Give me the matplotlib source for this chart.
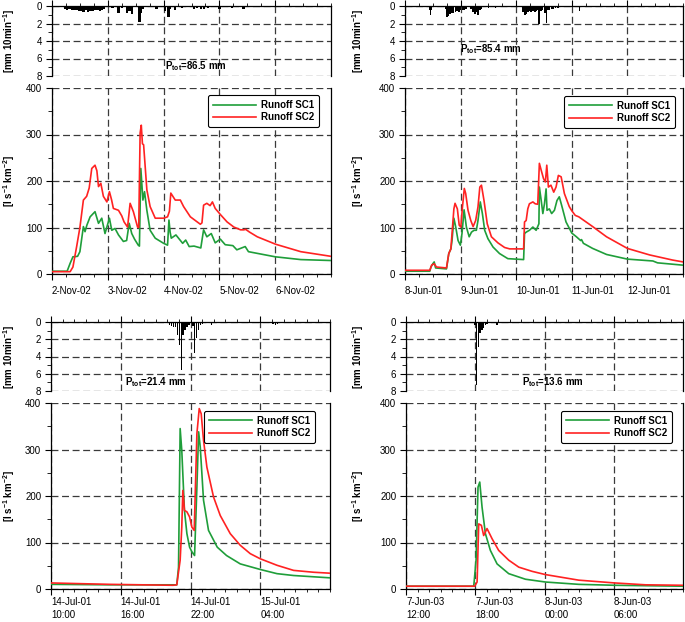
import numpy as np
import matplotlib.pyplot as plt
from matplotlib.ticker import MultipleLocator

plt.rcParams['font.family'] = ['Liberation Sans', 'DejaVu Sans']
plt.rcParams['mathtext.fontset'] = 'custom'
plt.rcParams['mathtext.bf'] = 'Liberation Sans:bold'
plt.rcParams['mathtext.rm'] = 'Liberation Sans:bold'
plt.rcParams['mathtext.default'] = 'bf'
plt.rcParams['lines.scale_dashes'] = False

# ---------------- datos: evento 1 (2-Nov-02), horas desde 2-Nov 00:00
lluvia1_h = [5.5, 6.5, 7.5, 8.5, 9.5, 10.5, 11.5, 12.5, 13.5, 14.5, 15.5, 16.5, 17.5,
             18.5, 19.5, 20.5, 21.5, 22.5, 24.5, 26.0, 28.6, 30.0, 32.2, 33.3, 34.3,
             37.6, 38.3, 39.0, 45.0, 48.7, 50.1, 50.6, 53.0, 56.0, 57.5, 61.0, 62.5,
             64.0, 65.5, 67.0, 70.0, 72.0, 77.4, 82.3]
lluvia1_mm = [0.3, 0.4, 0.35, 0.45, 0.5, 0.4, 0.55, 0.6, 0.65, 0.5, 0.7, 0.55, 0.6,
              0.45, 0.5, 0.6, 0.45, 0.35, 0.15, 0.2, 0.75, 0.2, 0.85, 0.6, 0.9,
              1.8, 0.8, 0.3, 0.3, 0.6, 1.2, 0.3, 0.4, 0.2, 0.15, 0.3, 0.25,
              0.35, 0.3, 0.25, 0.15, 0.3, 0.2, 0.35]
sc1_1_h = [0, 6.5, 7.8, 9.0, 11.0, 12.0, 13.5, 14.2, 15.0, 16.4, 18.5, 20.0, 21.4, 22.8,
           24.7, 25.7, 27.1, 28.6, 30.7, 32.1, 33.2, 34.3, 35.5, 37.1, 37.6, 38.2, 39.1,
           39.8, 40.8, 42.2, 44.4, 48.0, 49.7, 50.3, 50.8, 51.3, 53.3, 56.2, 57.5, 59.0,
           61.1, 64.0, 65.2, 66.6, 68.5, 70.2, 72.4, 74.5, 77.8, 79.5, 83.1, 84.5, 96.0,
           107.0, 120.0]
sc1_1_q = [6, 6, 23, 37, 38, 48, 102, 91, 105, 123, 134, 109, 120, 87,
           120, 94, 98, 84, 70, 72, 109, 87, 75, 62, 60, 227, 159,
           177, 137, 94, 77, 66, 62, 116, 90, 77, 84, 66, 73, 59,
           60, 56, 95, 80, 87, 67, 75, 63, 61, 52, 59, 48, 37,
           31, 29]
sc2_1_h = [0, 7.8, 9.0, 10.6, 12.0, 13.5, 14.9, 16.0, 17.1, 18.5, 19.3, 20.0, 21.0, 22.1,
           23.6, 24.7, 25.6, 26.4, 28.6, 30.0, 31.0, 32.5, 33.6, 35.0, 36.8, 37.3, 37.9,
           38.4, 38.9, 39.4, 40.8, 42.2, 44.4, 48.0, 49.7, 50.5, 51.1, 53.0, 55.2, 56.6,
           59.5, 63.8, 64.5, 65.2, 66.6, 68.0, 69.0, 70.2, 72.4, 75.3, 78.2, 81.1, 82.5,
           83.3, 85.0, 88.3, 96.2, 107.0, 120.0]
sc2_1_q = [5, 5, 15, 59, 100, 159, 167, 185, 227, 234, 222, 188, 195, 167,
           155, 177, 160, 141, 137, 125, 112, 101, 152, 134, 101, 100, 303,
           320, 280, 278, 181, 145, 120, 120, 123, 135, 174, 159, 159, 145,
           123, 107, 110, 148, 152, 147, 155, 141, 128, 112, 101, 95, 95,
           96, 90, 80, 64, 48, 38]

# ---------------- evento 2 (8-Jun-01), horas desde 8-Jun 00:00
lluvia2_h = [10.6, 11.0, 11.5, 14.5, 17.5, 18.0, 18.7, 19.4, 20.2, 21.0, 21.8, 22.5,
             23.3, 24.0, 24.8, 25.5, 26.3, 28.5, 29.4, 30.2, 30.9, 31.6, 32.4, 33.0,
             36.0, 37.5, 39.0, 46.5, 51.0, 51.7, 52.4, 53.1, 53.8, 54.5, 55.2, 56.0,
             56.7, 57.4, 57.9, 58.6, 59.3, 60.3, 61.0, 61.7, 62.4, 63.2, 64.0, 65.0,
             66.0, 67.0, 75.4]
lluvia2_mm = [0.5, 1.0, 0.5, 0.15, 0.3, 1.2, 1.1, 0.9, 0.8, 0.85, 0.7, 0.6,
              0.65, 0.5, 0.45, 0.4, 0.3, 0.3, 0.7, 0.9, 0.65, 1.0, 0.4, 0.3,
              0.2, 0.15, 0.2, 0.15, 0.7, 1.0, 0.9, 0.7, 0.6, 0.65, 0.6, 0.7,
              0.6, 0.5, 2.0, 0.6, 0.5, 0.85, 1.9, 0.5, 0.4, 0.35, 0.3, 0.25,
              0.2, 0.15, 0.6]
sc1_2_h = [0, 10.7, 11.2, 12.0, 12.6, 13.2, 17.9, 18.9, 19.8, 20.3, 21.1, 21.9, 22.9,
           23.9, 24.6, 25.5, 26.5, 27.7, 28.7, 29.8, 30.8, 31.5, 32.5, 33.4, 34.4, 35.8,
           38.0, 40.8, 44.4, 51.2, 51.6, 52.3, 53.7, 55.2, 56.6, 57.8, 58.0, 58.8, 59.5,
           60.2, 60.9, 61.3, 62.3, 63.3, 64.5, 65.6, 66.6, 67.6, 69.5, 72.0, 74.0, 75.8,
           76.2, 77.0, 81.0, 87.0, 96.0, 107.0, 109.0, 120.0]
sc1_2_q = [6, 6, 15, 22, 26, 13, 11, 44, 54, 72, 120, 101, 72,
           62, 87, 138, 101, 80, 90, 94, 94, 115, 155, 130, 94, 76,
           58, 44, 33, 31, 87, 90, 94, 101, 94, 108, 187, 158, 130,
           151, 183, 137, 140, 130, 137, 158, 166, 148, 112, 88, 80, 72,
           74, 66, 55, 42, 32, 28, 24, 19]
sc2_2_h = [0, 10.7, 11.5, 12.6, 13.6, 17.9, 18.9, 19.8, 20.3, 21.1, 21.6, 22.6, 23.4,
           24.1, 24.8, 25.6, 26.2, 27.2, 28.4, 29.4, 30.5, 31.5, 32.3, 33.0, 34.1, 35.5,
           37.3, 40.1, 43.0, 45.2, 51.2, 51.6, 52.3, 53.0, 53.7, 55.2, 56.2, 57.3, 58.0,
           58.8, 59.8, 60.6, 61.2, 61.9, 63.0, 64.2, 65.2, 66.2, 67.4, 68.8, 70.9, 72.0,
           73.5, 75.0, 77.0, 81.0, 87.0, 96.0, 105.6, 115.5, 120.0]
sc2_2_q = [8, 8, 19, 22, 15, 13, 44, 54, 87, 140, 152, 140, 105,
           101, 144, 184, 173, 137, 115, 102, 115, 144, 187, 191, 158, 108,
           80, 67, 57, 54, 54, 112, 115, 140, 151, 155, 151, 150, 238,
           223, 205, 198, 234, 187, 191, 176, 187, 212, 209, 173, 145, 136,
           126, 123, 116, 102, 80, 55, 41, 30, 26]

# ---------------- evento 3 (14-Jul-01), horas desde 14-Jul 10:00
lluvia3_h = [10.2, 10.37, 10.53, 10.7, 10.87, 11.03, 11.2, 11.37, 11.53, 11.7, 11.87,
             12.2, 12.37, 12.53, 12.7, 12.87, 13.03, 13.2, 13.5, 13.83, 14.8, 16.0,
             17.1, 19.1, 19.3, 19.5, 23.2]
lluvia3_mm = [0.3, 0.5, 0.55, 0.6, 1.5, 2.7, 5.6, 1.5, 0.9, 0.55, 0.3,
              0.5, 3.6, 1.9, 0.9, 0.4, 0.2, 0.15, 0.15, 0.3, 0.1, 0.15,
              0.1, 0.2, 0.35, 0.2, 0.15]
sc1_3_h = [0, 5, 10.82, 10.97, 11.11, 11.25, 11.48, 11.69, 11.92, 12.12, 12.35, 12.55,
           12.7, 12.84, 13.12, 13.55, 14.3, 15.1, 16.28, 18.0, 19.44, 20.87, 24.0]
sc1_3_q = [10, 9, 9, 47, 345, 298, 169, 119, 90, 80, 72, 219,
           338, 305, 191, 126, 90, 72, 54, 42, 33, 29, 24]
sc2_3_h = [0, 5, 10.5, 10.82, 11.11, 11.25, 11.34, 11.48, 11.69, 11.92, 12.12, 12.32,
           12.55, 12.75, 12.92, 13.12, 13.41, 13.98, 14.56, 15.42, 16.28, 17.14, 18.0,
           19.44, 20.87, 22.6, 24.0]
sc2_3_q = [13, 10, 8, 9, 62, 133, 212, 169, 166, 155, 133, 126,
           334, 388, 377, 320, 262, 198, 158, 119, 94, 76, 65,
           51, 40, 36, 34]

# ---------------- evento 4 (7-Jun-03), horas desde 7-Jun 12:00
lluvia4_h = [5.97, 6.12, 6.27, 6.42, 6.57, 6.72, 6.87, 7.02, 7.17, 7.42, 7.7, 7.87]
lluvia4_mm = [0.35, 7.3, 2.9, 1.3, 0.9, 0.65, 0.35, 0.25, 0.15, 0.15, 0.1, 0.3]
sc1_4_h = [0, 5.87, 6.07, 6.24, 6.39, 6.59, 6.88, 7.31, 7.89, 8.9, 10.35, 12.08,
           14.97, 18.09, 24.0]
sc1_4_q = [6, 6, 62, 219, 230, 176, 119, 83, 54, 33, 21, 15, 10, 8, 6]
sc2_4_h = [0, 5.95, 6.16, 6.3, 6.53, 6.73, 7.02, 7.46, 8.03, 8.9, 9.77, 10.92, 12.08,
           14.97, 18.09, 20.75, 24.0]
sc2_4_q = [6, 6, 15, 140, 137, 115, 130, 108, 83, 62, 47, 38, 31, 19, 13, 9, 8]

ptot = ["86.5", "85.4", "21.4", "13.6"]

etiquetas1 = ["2-Nov-02", "3-Nov-02", "4-Nov-02", "5-Nov-02", "6-Nov-02"]
etiquetas2 = ["8-Jun-01", "9-Jun-01", "10-Jun-01", "11-Jun-01", "12-Jun-01"]
etiquetas3 = ["14-Jul-01\n10:00", "14-Jul-01\n16:00", "14-Jul-01\n22:00", "15-Jul-01\n04:00"]
etiquetas4 = ["7-Jun-03\n12:00", "7-Jun-03\n18:00", "8-Jun-03\n00:00", "8-Jun-03\n06:00"]

VERDE = '#1f9e3a'
ROJO = '#ff2222'
GRIS = '#3a3a3a'
W, H = 685, 622


def rect(l, t, r, b):
    return [l / W, 1 - b / H, (r - l) / W, (b - t) / H]


def rejilla(ax):
    ax.grid(True, which='major', linestyle=(0, (5, 2.6)), color=GRIS, linewidth=0.9)


def panel(xl, xr, yr_t, yr_b, yq_t, yq_b, lh, lmm, ancho, h1, q1, h2, q2,
          total, etiquetas, paso, menor, pad_lbl, pos_txt, pos_leg, lbl_x):
    fin = paso * len(etiquetas)
    # --- lluvia
    ax_r = fig.add_axes(rect(xl, yr_t, xr, yr_b))
    ax_r.bar(lh, lmm, width=ancho, color='k', align='center', zorder=3, linewidth=0)
    ax_r.set_xlim(0, fin)
    ax_r.set_ylim(8, 0)
    ax_r.set_xticks(np.arange(0, fin, paso))
    ax_r.xaxis.set_minor_locator(MultipleLocator(menor))
    ax_r.yaxis.set_major_locator(MultipleLocator(2))
    ax_r.yaxis.set_minor_locator(MultipleLocator(1))
    ax_r.tick_params(axis='x', which='both', top=True, bottom=False, labeltop=False,
                     labelbottom=False, direction='out')
    ax_r.spines['bottom'].set_visible(False)
    ax_r.set_ylabel(r'[mm 10min$^{-1}$]', fontsize=7, fontweight='bold')
    ax_r.yaxis.set_label_coords((lbl_x - xl) / (xr - xl), 0.5)
    rejilla(ax_r)
    ax_r.text(pos_txt[0], pos_txt[1], r'P$_{tot}$=' + total + ' mm', transform=ax_r.transAxes,
              fontsize=7, fontweight='bold', va='center', ha='left')

    # --- escorrentia
    ax_q = fig.add_axes(rect(xl, yq_t, xr, yq_b))
    ax_q.plot(h1, q1, color=VERDE, lw=1.2, label='Runoff SC1', zorder=4)
    ax_q.plot(h2, q2, color=ROJO, lw=1.2, label='Runoff SC2', zorder=4)
    ax_q.set_xlim(0, fin)
    ax_q.set_ylim(0, 400)
    ax_q.set_xticks(np.arange(0, fin, paso), etiquetas)
    for t in ax_q.get_xticklabels():
        t.set_horizontalalignment('left')
        t.set_linespacing(1.35)
    ax_q.xaxis.set_minor_locator(MultipleLocator(menor))
    ax_q.yaxis.set_major_locator(MultipleLocator(100))
    ax_q.yaxis.set_minor_locator(MultipleLocator(50))
    ax_q.tick_params(axis='x', which='major', pad=pad_lbl)
    ax_q.spines['top'].set_visible(False)
    ax_q.set_ylabel(r'[l s$^{-1}$ km$^{-2}$]', fontsize=7, fontweight='bold')
    ax_q.yaxis.set_label_coords((lbl_x - xl) / (xr - xl), 0.5)
    rejilla(ax_q)
    leg = ax_q.legend(loc='upper right', bbox_to_anchor=pos_leg, borderaxespad=0,
                      prop={'weight': 'bold', 'size': 7}, handlelength=4.4,
                      handletextpad=0.5, labelspacing=0.25, borderpad=0.5,
                      fancybox=True, framealpha=1, edgecolor='k')
    leg.get_frame().set_linewidth(0.8)
    leg.set_zorder(6)
    return ax_r, ax_q


plt.rcParams['xtick.labelsize'] = 7
plt.rcParams['ytick.labelsize'] = 7
plt.rcParams['xtick.major.size'] = 4.5
plt.rcParams['xtick.minor.size'] = 2.5
plt.rcParams['ytick.major.size'] = 4.5
plt.rcParams['ytick.minor.size'] = 3
plt.rcParams['xtick.major.width'] = 0.8
plt.rcParams['ytick.major.width'] = 0.8
plt.rcParams['axes.linewidth'] = 0.9
plt.rcParams['ytick.major.pad'] = 2.5

fig = plt.figure(figsize=(6.85, 6.22), dpi=100)

panel(52, 331, 6, 76, 88, 274, lluvia1_h, lluvia1_mm, 1.0, sc1_1_h, sc1_1_q, sc2_1_h, sc2_1_q,
      ptot[0], etiquetas1, 24, 6, 4.5, (0.405, 0.14), (0.957, 0.962), 17)
panel(405, 683, 6, 76, 88, 274, lluvia2_h, lluvia2_mm, 0.7, sc1_2_h, sc1_2_q, sc2_2_h, sc2_2_q,
      ptot[1], etiquetas2, 24, 6, 4.5, (0.198, 0.386), (0.971, 0.957), 366)
panel(51, 330, 322, 391, 403, 589, lluvia3_h, lluvia3_mm, 0.12, sc1_3_h, sc1_3_q, sc2_3_h, sc2_3_q,
      ptot[2], etiquetas3, 6, 1, 1.5, (0.265, 0.135), (0.946, 0.957), 17)
panel(406, 683, 322, 391, 403, 589, lluvia4_h, lluvia4_mm, 0.12, sc1_4_h, sc1_4_q, sc2_4_h, sc2_4_q,
      ptot[3], etiquetas4, 6, 1, 1.5, (0.418, 0.135), (0.960, 0.957), 366)

fig.savefig('out.png', dpi=100)
